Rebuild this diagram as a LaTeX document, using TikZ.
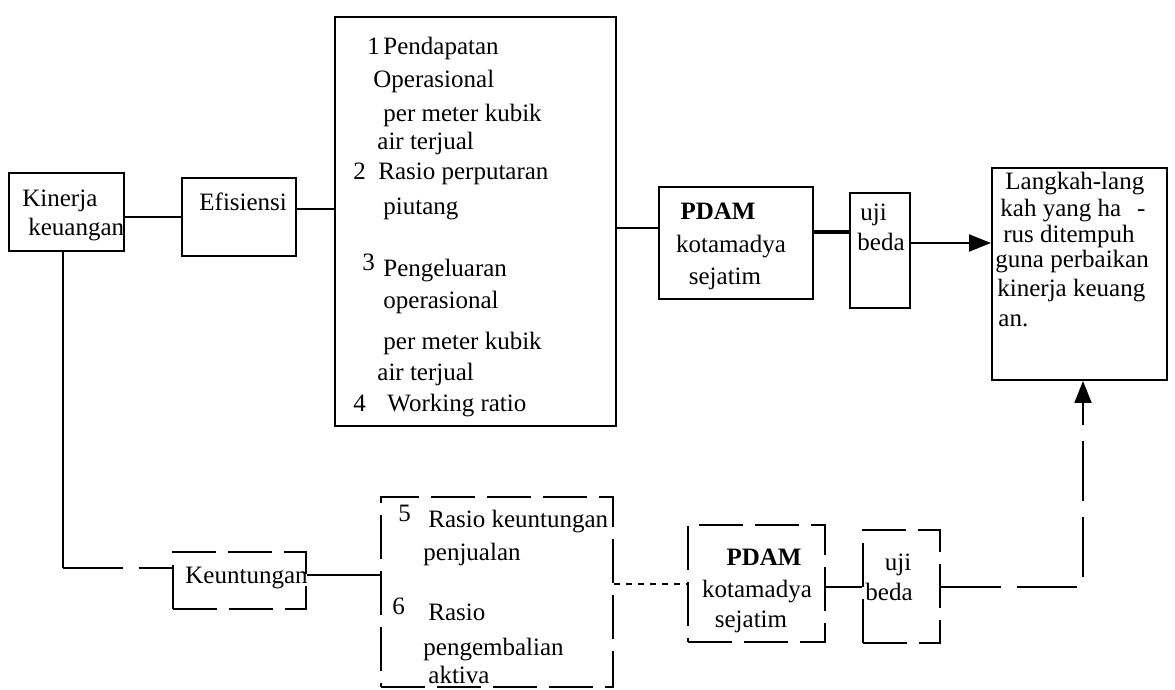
\documentclass[tikz,border=0pt]{standalone}
\usepackage{fontspec}
\setmainfont{Liberation Serif}
\usetikzlibrary{arrows.meta}
\begin{document}
\begin{tikzpicture}[x=0.5pt,y=-0.5pt,
  box/.style={draw, line width=1pt, inner sep=0pt, rectangle},
  dbox/.style={box, dash pattern=on 22pt off 6pt},
  txt/.style={anchor=base west, inner sep=0pt, font=\fontsize{12.5}{15}\selectfont},
  ctxt/.style={anchor=base, inner sep=0pt, font=\fontsize{12.5}{15}\selectfont},
  conn/.style={line width=1pt},
  thickconn/.style={line width=2pt},
  dconn/.style={conn, dash pattern=on 30pt off 8pt},
  tip/.style={-{Triangle[length=11pt,width=8.5pt]}}
]
\useasboundingbox (0,0) rectangle (1175,690);

% ---- boxes (upper row)
\node[box, minimum width=57.5pt, minimum height=39pt] (kin) at (66.5,212) {};
\node[box, minimum width=57pt, minimum height=39pt] (efi) at (239,217) {};
\node[box, minimum width=140.5pt, minimum height=204.5pt] (big) at (475.5,221.5) {};
\node[box, minimum width=77pt, minimum height=56pt] (pdam) at (736,243) {};
\node[box, minimum width=30pt, minimum height=57.5pt] (uji) at (880,250.5) {};
\node[box, minimum width=87.5pt, minimum height=106pt] (lang) at (1079.5,274) {};

% ---- boxes (lower row)
\node[dbox, minimum width=66.5pt, minimum height=28.5pt] (keu) at (239.5,580.5) {};
\node[dbox, minimum width=116pt, minimum height=95pt] (box2) at (497,592) {};
\node[dbox, minimum width=68.5pt, minimum height=58.5pt] (pdamb) at (756.5,583.5) {};
\node[dbox, minimum width=38.5pt, minimum height=56.5pt] (ujib) at (901.5,586.5) {};

% ---- texts
\node[txt] (kinA) at (22,207) {Kinerja};
\node[txt] (kinB) at (28,235) {keuangan};
\node[txt] (efiA) at (199,211) {Efisiensi};

\node[txt] (b1) at (367,55) {1\hspace{1.75pt}Pendapatan};
\node[txt] (b2) at (373,88) {Operasional};
\node[txt] (b3) at (383,122) {per meter kubik};
\node[txt] (b4) at (377,150) {air terjual};
\node[txt] (b5) at (353,180) {2\hspace{6.25pt}Rasio perputaran};
\node[txt] (b6) at (383,215) {piutang};
\node[txt] (b7) at (362,277) {\raisebox{3pt}{3}\hspace{4.25pt}Pengeluaran};
\node[txt] (b8) at (383,308) {operasional};
\node[txt] (b9) at (383,350) {per meter kubik};
\node[txt] (b10) at (377,380) {air terjual};
\node[txt] (b11) at (353,412) {4\hspace{10.75pt}Working ratio};

\node[ctxt] (pA) at (718,220) {\textbf{PDAM}};
\node[ctxt] (pB) at (731,253) {kotamadya};
\node[ctxt] (pC) at (725,285) {sejatim};

\node[txt] (uA) at (860,221) {uji};
\node[txt] (uB) at (857,251) {beda};

\node[txt] (lA) at (1005,190) {Langkah-lang};
\node[txt] (lB) at (1000,217) {kah yang ha\hspace{8pt}-};
\node[txt] (lC) at (1003,243) {rus ditempuh};
\node[txt] (lD) at (995,268) {guna perbaikan};
\node[txt] (lE) at (997,297) {kinerja keuang};
\node[txt] (lF) at (998,327) {an.};

\node[txt] (kA) at (185,583) {Keuntungan};

\node[txt] (c1) at (398,527) {\raisebox{3pt}{5}\hspace{8.75pt}Rasio keuntungan};
\node[txt] (c2) at (423,560) {penjualan};
\node[txt] (c3) at (392,620) {\raisebox{3pt}{6}\hspace{11.75pt}Rasio};
\node[txt] (c4) at (423,655) {pengembalian};
\node[txt] (c5) at (428,683) {aktiva};

\node[ctxt] (qA) at (764,565) {\textbf{PDAM}};
\node[ctxt] (qB) at (757,597) {kotamadya};
\node[ctxt] (qC) at (751,627) {sejatim};

\node[ctxt] (vA) at (898,570) {uji};
\node[ctxt] (vB) at (889,600) {beda};

% ---- connectors (upper row)
\draw[conn] (efi.west -| kin.east) -- (efi.west);
\draw[conn] ([yshift=4pt]efi.east) -- ([yshift=4pt]efi.east -| big.west);
\draw[conn] ([yshift=7.5pt]pdam.west -| big.east) -- ([yshift=7.5pt]pdam.west);
\draw[thickconn] ([yshift=5.5pt]pdam.east) -- ([yshift=5.5pt]pdam.east -| uji.west);
\draw[conn, tip] ([yshift=3.75pt]uji.east) -- ([yshift=3.75pt]uji.east -| lang.west);

% ---- connectors (lower row)
\draw[conn] ([xshift=-2pt]kin.south) -- ([xshift=-2pt,yshift=6.25pt]kin.south |- keu.west);
\draw[dconn] ([xshift=-2pt,yshift=6.25pt]kin.south |- keu.west) -- ([yshift=6.25pt]keu.west);
\draw[conn] ([yshift=2.75pt]keu.east) -- ([yshift=2.75pt]keu.east -| box2.west);
\draw[conn, dash pattern=on 3pt off 3pt] (box2.east |- pdamb.west) -- (pdamb.west);
\draw[conn] (pdamb.east |- ujib.west) -- (ujib.west);
\draw[dconn, tip] (ujib.east) -| ([xshift=1.75pt]lang.south);
\end{tikzpicture}
\end{document}
